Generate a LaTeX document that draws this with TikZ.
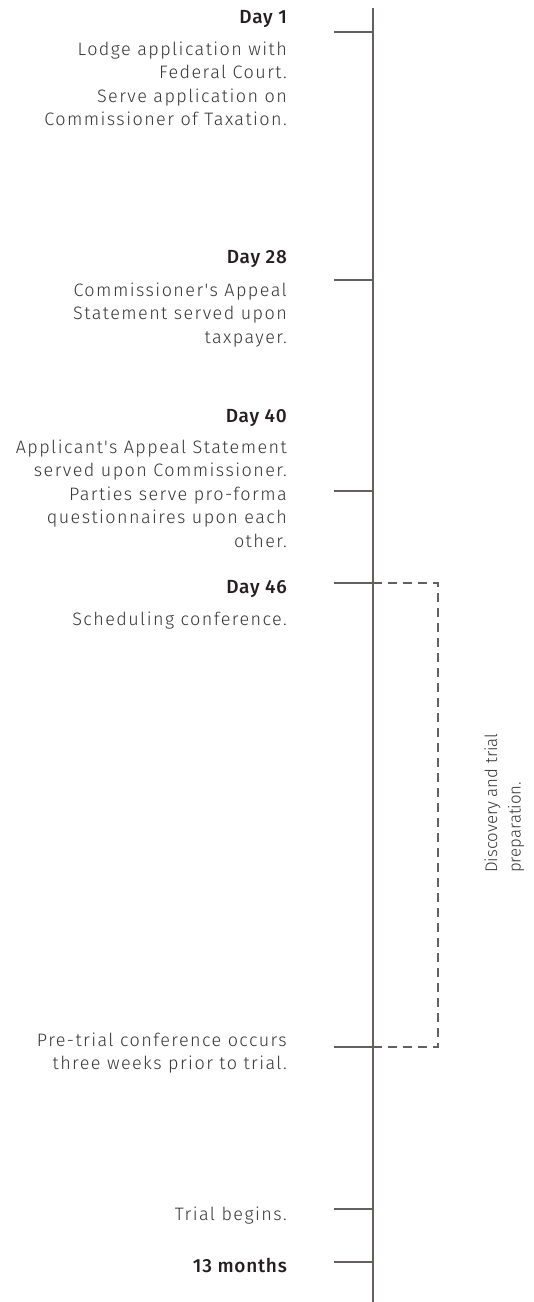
\documentclass[tikz,border=0pt]{standalone}
\usepackage{fontspec}
\setmainfont{Fira Sans Light}[BoldFont=Fira Sans Medium]
\newfontfamily\trackedfont{Fira Sans Light}[BoldFont=Fira Sans Medium, LetterSpace=8]
\newfontfamily\headfont{Fira Sans Medium}[LetterSpace=4]
\definecolor{axisgray}{RGB}{100,96,96}
\definecolor{bodygray}{RGB}{55,52,52}
\definecolor{headgray}{RGB}{35,31,32}
\newcommand{\rlines}[1]{\begin{tabular}[t]{@{}r@{}}#1\end{tabular}}
\newcommand{\llines}[1]{\begin{tabular}[t]{@{}l@{}}#1\end{tabular}}
\tikzset{
  axisline/.style={draw=axisgray, line width=2pt},
  tickline/.style={draw=axisgray, line width=2pt},
  spanline/.style={draw=axisgray, line width=2pt, dash pattern=on 9pt off 6pt},
  dayhead/.style={anchor=base east, inner sep=0pt, text=headgray,
    font=\headfont\fontsize{19}{23.5}\selectfont},
  daytext/.style={anchor=base east, inner sep=0pt, text=bodygray,
    font=\trackedfont\fontsize{18}{23.5}\selectfont},
  spantext/.style={anchor=base west, inner sep=0pt, text=bodygray, rotate=90,
    font=\fontsize{16.8}{23.5}\selectfont},
}
\begin{document}
\begin{tikzpicture}[x=1pt, y=-1pt]
  \useasboundingbox (0,0) rectangle (534,1302);

  % vertical time axis
  \coordinate (axtop) at (373,8);
  \coordinate (axbot) at (373,1302);
  \draw[axisline] (axtop) -- (axbot);

  % tick marks along the axis
  \foreach \nm/\yy in {t1/32, t28/280, t40/491, t46/583, tpre/1047, ttrial/1209, tend/1262}{
    \coordinate (\nm) at (373,\yy);
    \coordinate (\nm-l) at (334,\yy);
    \draw[tickline] (\nm-l) -- (\nm);
  }

  % bracket spanning discovery and trial preparation
  \coordinate (br1) at (438,583);
  \coordinate (br2) at (438,1047);
  \draw[spanline] (t46) -- (br1) -- (br2) -- (tpre);

  % labels
  \node[dayhead] (h1) at (287,23) {Day 1};
  \node[daytext] (d1) at (287,55) {\rlines{Lodge application with\\ Federal Court.\\ Serve application on\\ Commissioner of Taxation.}};

  \node[dayhead] (h28) at (287,263) {Day 28};
  \node[daytext] (d28) at (287,296) {\rlines{Commissioner's Appeal\\ Statement served upon\\ taxpayer.}};

  \node[dayhead] (h40) at (287,422) {Day 40};
  \node[daytext] (d40) at (287,453) {\rlines{Applicant's Appeal Statement\\ served upon Commissioner.\\ Parties serve pro-forma\\ questionnaires upon each\\ other.}};

  \node[dayhead] (h46) at (287,593) {Day 46};
  \node[daytext] (d46) at (287,625) {Scheduling conference.};

  \node[daytext] (dpre) at (287,1046) {\rlines{Pre-trial conference occurs\\ three weeks prior to trial.}};

  \node[daytext] (dtrial) at (287,1220) {Trial begins.};

  \node[dayhead] (hend) at (287,1272) {13 months};

  \node[spantext] (span) at (497,873) {\llines{Discovery and trial\\ preparation.}};
\end{tikzpicture}
\end{document}
